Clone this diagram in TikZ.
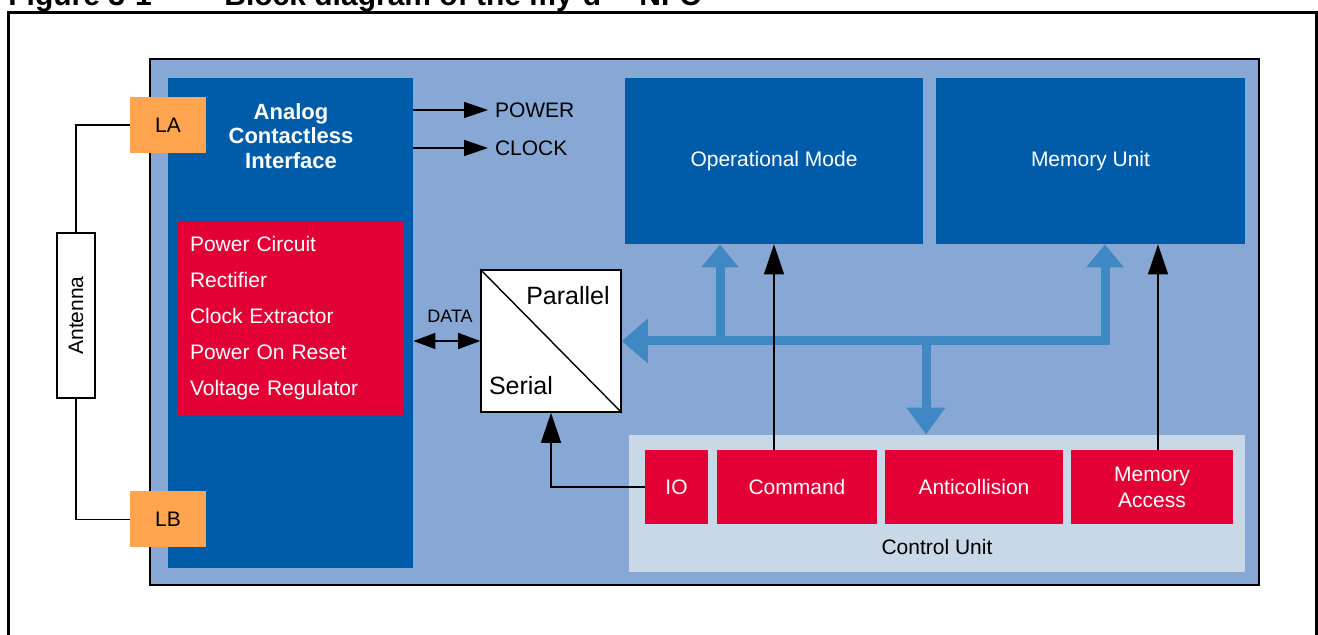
\documentclass[tikz,border=0pt]{standalone}
\usepackage{fontspec}
\setmainfont{Liberation Sans}
\usetikzlibrary{arrows.meta}

\definecolor{panelblue}{HTML}{87A7D4}
\definecolor{unitblue}{HTML}{005CA9}
\definecolor{blockred}{HTML}{E30034}
\definecolor{padorange}{HTML}{FFA54F}
\definecolor{busblue}{HTML}{3F88C4}
\definecolor{ctrlgray}{HTML}{C8D8E7}

\begin{document}
\begin{tikzpicture}[x=0.5pt, y=-0.5pt, font=\fontsize{10.5}{12}\selectfont,
  box/.style={rectangle, inner sep=0pt, text=white},
  unit/.style={box, fill=unitblue},
  block/.style={box, fill=blockred, minimum height=37pt},
  pad/.style={box, fill=padorange, text=black, minimum width=38pt, minimum height=28pt},
  sig/.style={-{Triangle[length=12pt, width=8pt]}, line width=0.7pt},
  vsig/.style={-{Triangle[length=15pt, width=10pt]}, line width=0.7pt},
  bus/.style={busblue, line width=4.5pt, line join=miter}]
\useasboundingbox (0,0) rectangle (1318,635);
\node[anchor=base west, inner sep=0pt, font=\fontsize{15}{18}\selectfont\bfseries] (fignum) at (8,6) {Figure 3-1};
\node[anchor=base west, inner sep=0pt, font=\fontsize{15}{18}\selectfont\bfseries] (figtitle) at (224,6) {Block diagram of the my-d\texttrademark{} NFC};
\draw[line width=1.5pt] (8,13) rectangle (1316,700);
\node[draw, line width=1.2pt, fill=panelblue, inner sep=0pt, minimum width=554.5pt, minimum height=263pt] (chip) at (704.5,322) {};
\node[unit, minimum width=122.5pt, minimum height=245pt] (aci) at (290.5,323) {};
\node[text=white, align=center, font=\fontsize{11}{12.25}\selectfont\bfseries] (acititle) at (291,136) {Analog\\Contactless\\Interface};
\node[box, fill=blockred, text width=100pt, inner xsep=6.5pt, minimum height=96.5pt, align=left, font=\fontsize{10.5}{18}\selectfont] (rf) at (290,318.5) {Power Circuit\\Rectifier\\Clock Extractor\\Power On Reset\\Voltage Regulator};
\node[pad] (la) at (168,125) {LA};
\node[pad] (lb) at (168,519.5) {LB};
\node[draw, fill=white, line width=0.7pt, inner sep=0pt, minimum width=19pt, minimum height=82.5pt] (ant) at (76,315.5) {\rotatebox{90}{Antenna}};
\draw[line width=0.7pt] (la.west) -| (ant.north);
\draw[line width=0.7pt] (ant.south) |- (lb.west);
\node[anchor=west] (power) at (488,110) {POWER};
\node[anchor=west] (clock) at (488,148) {CLOCK};
\draw[sig] (aci.east |- power) -- (power.west);
\draw[sig] (aci.east |- clock) -- (clock.west);
\node[draw, fill=white, line width=0.8pt, inner sep=0pt, minimum width=70pt, minimum height=71pt] (pser) at (551,341) {};
\draw[line width=0.7pt] (pser.north west) -- (pser.south east);
\node[font=\fontsize{12.5}{14}\selectfont] (par) at (568,296) {Parallel};
\node[font=\fontsize{12.5}{14}\selectfont] (ser) at (521,386) {Serial};
\node[font=\fontsize{9}{10}\selectfont] (datalbl) at (450,316) {DATA};
\draw[{Triangle[length=11pt, width=8pt]}-{Triangle[length=11pt, width=8pt]}, line width=0.7pt] (aci.east |- pser.west) -- (pser.west);
\node[unit, minimum width=149pt, minimum height=83pt] (opmode) at (774,161) {Operational Mode};
\node[unit, minimum width=154.5pt, minimum height=83pt] (memunit) at (1090.5,161) {Memory Unit};
\node[box, fill=ctrlgray, minimum width=308pt, minimum height=68.5pt] (ctrl) at (937,503.5) {};
\node (ctrllbl) at (937,547) {Control Unit};
\node[block, minimum width=31.5pt] (io) at (676.5,487) {IO};
\node[block, minimum width=80pt] (cmd) at (797,487) {Command};
\node[block, minimum width=89pt] (anti) at (974,487) {Anticollision};
\node[block, minimum width=81pt, align=center, font=\fontsize{10.5}{13}\selectfont] (memacc) at (1152,487) {Memory\\Access};
\coordinate (busL) at (720,341);
\coordinate (busM) at (926,341);
\coordinate (busR) at (1105,341);
\draw[bus, {Triangle[length=13pt, width=21.5pt]}-{Triangle[length=11.5pt, width=18pt]}] (pser.east) -- (busR) -- (busR |- memunit.south);
\draw[bus, -{Triangle[length=11.5pt, width=18pt]}] (busL) -- (busL |- opmode.south);
\draw[bus, -{Triangle[length=13.5pt, width=18.5pt]}] (busM) -- (busM |- ctrl.north);
\draw[vsig] (cmd.north -| opmode.south) -- (opmode.south);
\draw[vsig] ([xshift=3pt]memacc.north) -- ([xshift=3pt]memacc.north |- memunit.south);
\draw[vsig] (io.west) -| (pser.south);
\end{tikzpicture}
\end{document}
